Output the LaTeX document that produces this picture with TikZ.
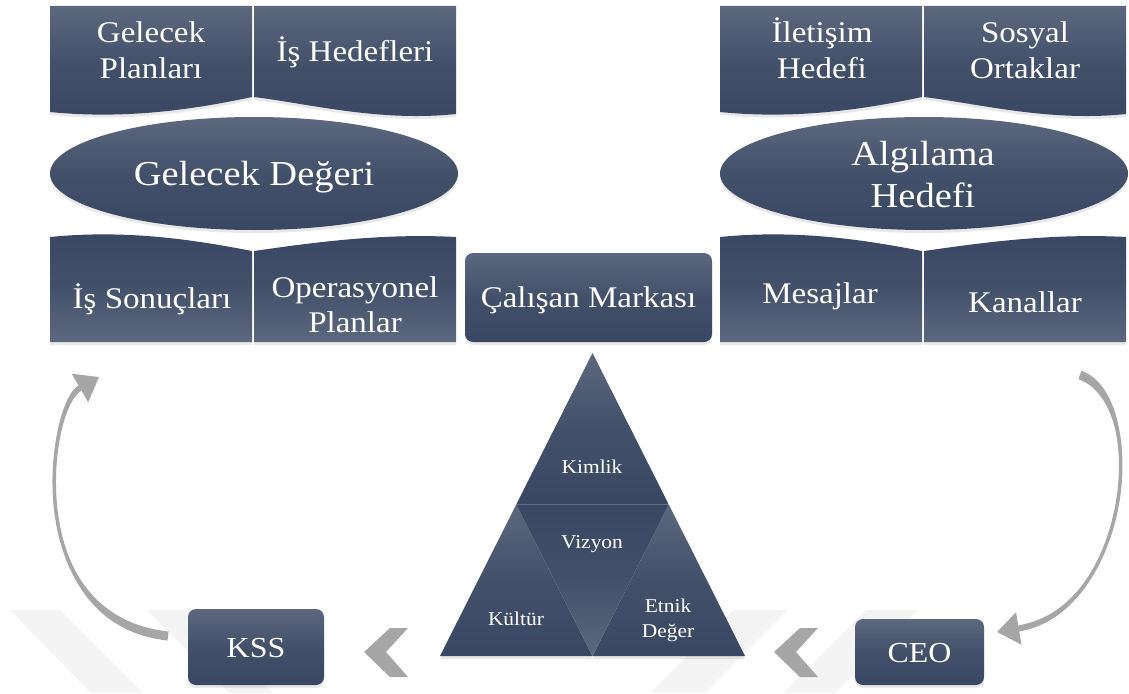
\documentclass[tikz,border=0pt]{standalone}
\usepackage{fontspec}
\setmainfont{Liberation Serif}[FakeStretch=1.1]
\usetikzlibrary{shapes.geometric,arrows.meta,shadows}
\definecolor{bxlight}{RGB}{92,104,126}
\definecolor{bxmid}{RGB}{66,80,106}
\definecolor{bxdark}{RGB}{57,71,98}
\definecolor{arrgray}{RGB}{166,166,166}
\definecolor{wmgray}{RGB}{244,244,244}
\begin{document}
\begin{tikzpicture}[x=1pt,y=-1pt,
  shadedown/.style={top color=bxlight, bottom color=bxdark, middle color=bxmid},
  shadeup/.style={top color=bxdark, bottom color=bxlight, middle color=bxmid},
  shadowy/.style={drop shadow={shadow xshift=0pt, shadow yshift=-3pt, opacity=0.18}},
  tx/.style={text=white, inner sep=0pt, anchor=base},
  fbox/.style={font=\fontsize{30}{35}\selectfont},
  fbig/.style={font=\fontsize{35}{42}\selectfont},
  fsmall/.style={font=\fontsize{19.5}{24}\selectfont},
  rbox/.style={rounded corners=8pt, shadedown, shadowy, text=white, inner sep=0pt,
    text height=20pt, text depth=0pt},
  oval/.style={ellipse, shadedown, shadowy, minimum width=408pt, minimum height=113pt, inner sep=0pt},
  arr/.style={draw=arrgray, line width=3.5pt, -{Triangle[length=22pt,width=32pt]}},
  arrbody/.style={fill=arrgray},
  chev/.style={fill=arrgray},
  wm/.style={fill=wmgray}
]
\useasboundingbox (0,0) rectangle (1129,693);

% faint watermark bands
\path[wm] (10,610) -- (60,610) -- (143,693) -- (91,693) -- cycle;
\path[wm] (147,610) -- (190,610) -- (273,693) -- (230,693) -- cycle;
\path[wm] (733,610) -- (788,610) -- (705,693) -- (650,693) -- cycle;
\path[wm] (866,610) -- (918,610) -- (835,693) -- (783,693) -- cycle;

% chevrons
\path[chev] (364,652) -- (390,628) -- (408,628) -- (386,652) -- (408,677) -- (390,677) -- cycle;
\path[chev] (774,652) -- (800,628) -- (818,628) -- (796,652) -- (818,677) -- (800,677) -- cycle;

% left group
\path[shadowy, shadedown] (50,6) -- (252,6) -- (252,97) .. controls (200,108) and (130,120) .. (50,112) -- cycle;
\path[shadowy, shadedown] (254,6) -- (456,6) -- (456,114) .. controls (380,122) and (310,104) .. (254,97) -- cycle;
\path[shadowy, shadeup] (50,237) .. controls (130,229) and (200,241) .. (252,251) -- (252,342) -- (50,342) -- cycle;
\path[shadowy, shadeup] (254,251) .. controls (310,243) and (380,233) .. (456,237) -- (456,342) -- (254,342) -- cycle;
\node[oval] (gd) at (254,173.5) {};

% right group
\begin{scope}[xshift=670pt]
\path[shadowy, shadedown] (50,6) -- (252,6) -- (252,97) .. controls (200,108) and (130,120) .. (50,112) -- cycle;
\path[shadowy, shadedown] (254,6) -- (456,6) -- (456,114) .. controls (380,122) and (310,104) .. (254,97) -- cycle;
\path[shadowy, shadeup] (50,237) .. controls (130,229) and (200,241) .. (252,251) -- (252,342) -- (50,342) -- cycle;
\path[shadowy, shadeup] (254,251) .. controls (310,243) and (380,233) .. (456,237) -- (456,342) -- (254,342) -- cycle;
\end{scope}
\node[oval] (ah) at (924,173.5) {};

% texts left
\node[tx, fbox] (gp1) at (151,43) {Gelecek};
\node[tx, fbox] (gp2) at (151,78) {Planları};
\node[tx, fbox] (ih) at (355,62) {İş Hedefleri};
\node[tx, fbig] (gdt) at (254,185) {Gelecek Değeri};
\node[tx, fbox] (is) at (152,308) {İş Sonuçları};
\node[tx, fbox] (op1) at (355,297) {Operasyonel};
\node[tx, fbox] (op2) at (355,332) {Planlar};

% texts right
\node[tx, fbox] (il1) at (822,43) {İletişim};
\node[tx, fbox] (il2) at (822,78) {Hedefi};
\node[tx, fbox] (so1) at (1025,43) {Sosyal};
\node[tx, fbox] (so2) at (1025,78) {Ortaklar};
\node[tx, fbig] (ah1) at (923,165) {Algılama};
\node[tx, fbig] (ah2) at (923,207) {Hedefi};
\node[tx, fbox] (ms) at (820,303) {Mesajlar};
\node[tx, fbox] (kn) at (1025,312) {Kanallar};

% central box
\node[rbox, fbox, minimum width=247pt, minimum height=89pt] (cm) at (588.5,297.5) {Çalışan Markası};

% pyramid
\coordinate (T) at (592.5,353);
\coordinate (BL) at (440,656);
\coordinate (BR) at (745,656);
\coordinate (ML) at (516.25,504.5);
\coordinate (MR) at (668.75,504.5);
\coordinate (MB) at (592.5,656);
\path[shadowy, shadedown] (ML) -- (MB) -- (BL) -- cycle;
\path[shadowy, shadedown] (MR) -- (BR) -- (MB) -- cycle;
\path[shadedown] (T) -- (MR) -- (ML) -- cycle;
\path[shadeup] (ML) -- (MR) -- (MB) -- cycle;
\node[tx, fsmall] (km) at (592,473) {Kimlik};
\node[tx, fsmall] (vz) at (592,548) {Vizyon};
\node[tx, fsmall] (kt) at (516,625) {Kültür};
\node[tx, fsmall] (et1) at (668,612) {Etnik};
\node[tx, fsmall] (et2) at (668,637) {Değer};

% bottom boxes
\node[rbox, font=\fontsize{29}{35}\selectfont, minimum width=136pt, minimum height=76pt] (kss) at (256,647) {KSS};
\node[rbox, font=\fontsize{29}{35}\selectfont, minimum width=129pt, minimum height=66pt] (ceo) at (919.5,652) {CEO};

% curved arrows (tapered bodies + connectors)
\path[arrbody] (167.5,640.5) .. controls (19.5,624.5) and (45.5,404.4) .. (78.5,385.4)
  -- (81.5,390.6) .. controls (48.5,409.6) and (20.5,615.5) .. (168.5,631.5) -- cycle;
\path[arrbody] (1081.5,370.8) .. controls (1151.5,395.8) and (1130.5,613) .. (1019.2,631.4)
  -- (1018.2,625.4) .. controls (1129.5,607) and (1148.5,404.2) .. (1078.5,379.2) -- cycle;
\coordinate (kssTail) at (168,636);
\coordinate (isTip) at (99,377);
\coordinate (knTail) at (1080,375);
\coordinate (ceoTip) at (997,632);
\draw[arr] (kssTail) .. controls (20,620) and (47,407) .. (isTip);
\draw[arr] (knTail) .. controls (1150,400) and (1130,610) .. (ceoTip);
\end{tikzpicture}
\end{document}
